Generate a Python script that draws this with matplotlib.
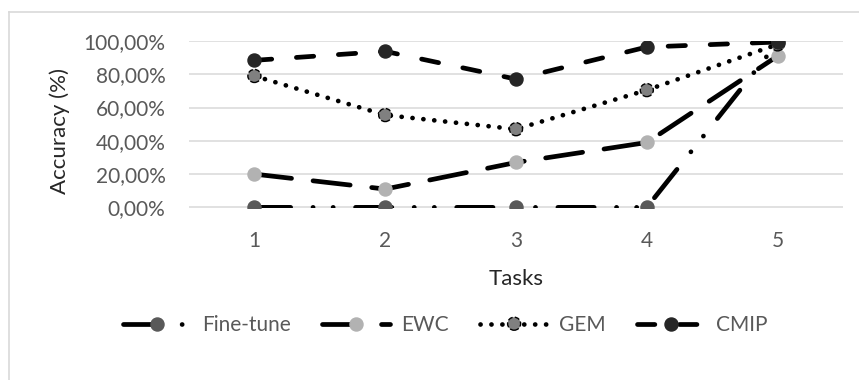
import matplotlib
matplotlib.use('Agg')
import matplotlib.pyplot as plt
from matplotlib.ticker import FuncFormatter
from matplotlib.legend_handler import HandlerTuple
from matplotlib.lines import Line2D

plt.rcParams['font.family'] = ['Lato', 'DejaVu Sans']
plt.rcParams['lines.scale_dashes'] = False

tasks = [1, 2, 3, 4, 5]
fine_tune = [0.0, 0.0, 0.0, 0.0, 0.99]
ewc = [0.20, 0.11, 0.27, 0.39, 0.91]
gem = [0.79, 0.555, 0.47, 0.705, 0.98]
cmip = [0.884, 0.938, 0.771, 0.964, 0.994]
yticks = [0.0, 0.2, 0.4, 0.6, 0.8, 1.0]

W, H = 859, 380
fig = plt.figure(figsize=(W / 100, H / 100), dpi=100)
ax = fig.add_axes([189 / W, 1 - 207.7 / H, 654 / W, 167 / H])

txt = '#595959'
lw = 3.4
ms = 9.4

# chart area border (only top and left inside the crop)
fig.add_artist(Line2D([9 / W, 9 / W], [0, 1 - 12 / H], color='#d9d9d9', lw=1.2,
                      transform=fig.transFigure))
fig.add_artist(Line2D([9 / W, 1], [1 - 12 / H, 1 - 12 / H], color='#d9d9d9', lw=1.2,
                      transform=fig.transFigure))

l1, = ax.plot(tasks, fine_tune, color='black', lw=lw, dashes=[26.1, 16.1, 0.07, 14.4, 0.07, 16.1],
              dash_capstyle='round', marker='o', ms=ms, mfc='#595959', mec='#595959', zorder=2,
              label='Fine-tune')
l2, = ax.plot(tasks, ewc, color='black', lw=lw, dashes=[26.9, 15.6],
              dash_capstyle='round', marker='o', ms=ms, mfc='#b2b2b2', mec='#b2b2b2', zorder=3,
              label='EWC')
l3, = ax.plot(tasks, gem, color='black', lw=lw, dashes=[0.07, 7.8],
              dash_capstyle='round', zorder=4)
s3 = ax.scatter(tasks, gem, s=ms ** 2, c='#808080', edgecolors='black', linewidths=1.0,
                linestyles='--', zorder=4.5)
l4, = ax.plot(tasks, cmip, color='black', lw=lw, dashes=[12.5, 17.8],
              dash_capstyle='round', marker='o', ms=ms, mfc='#262626', mec='#262626', zorder=5,
              label='CMIP')

ax.set_xlim(0.5, 5.5)
ax.set_ylim(-0.002, 1.002)
ax.set_xticks(tasks)
ax.set_yticks(yticks)
ax.yaxis.set_major_formatter(FuncFormatter(lambda v, p: f'{v * 100:.2f}%'.replace('.', ',')))
ax.grid(axis='y', color='#d9d9d9', lw=1.1)
ax.set_axisbelow(True)
for s in ax.spines.values():
    s.set_visible(False)
ax.tick_params(axis='both', length=0, labelsize=15, colors=txt)
ax.tick_params(axis='y', pad=17)
ax.tick_params(axis='x', pad=17)

ax.set_xlabel('Tasks', fontsize=16, color='#262626', va='baseline')
ax.xaxis.set_label_coords(0.5, -0.461)
ax.set_ylabel('Accuracy (%)', fontsize=16, color='#262626', va='center', ha='center')
ax.yaxis.set_label_coords(-0.197, 0.459)

leg = fig.legend([l1, l2, (l3, s3), l4], ['Fine-tune', 'EWC', 'GEM', 'CMIP'],
                 handler_map={tuple: HandlerTuple(ndivide=1)},
                 loc='center', bbox_to_anchor=(445 / W, 1 - 325 / H), ncol=4,
                 frameon=False, fontsize=15, handlelength=3.3, handletextpad=0.5,
                 columnspacing=1.5, scatteryoffsets=[0.5])
for t in leg.get_texts():
    t.set_color(txt)

fig.savefig('out.png', dpi=100)
